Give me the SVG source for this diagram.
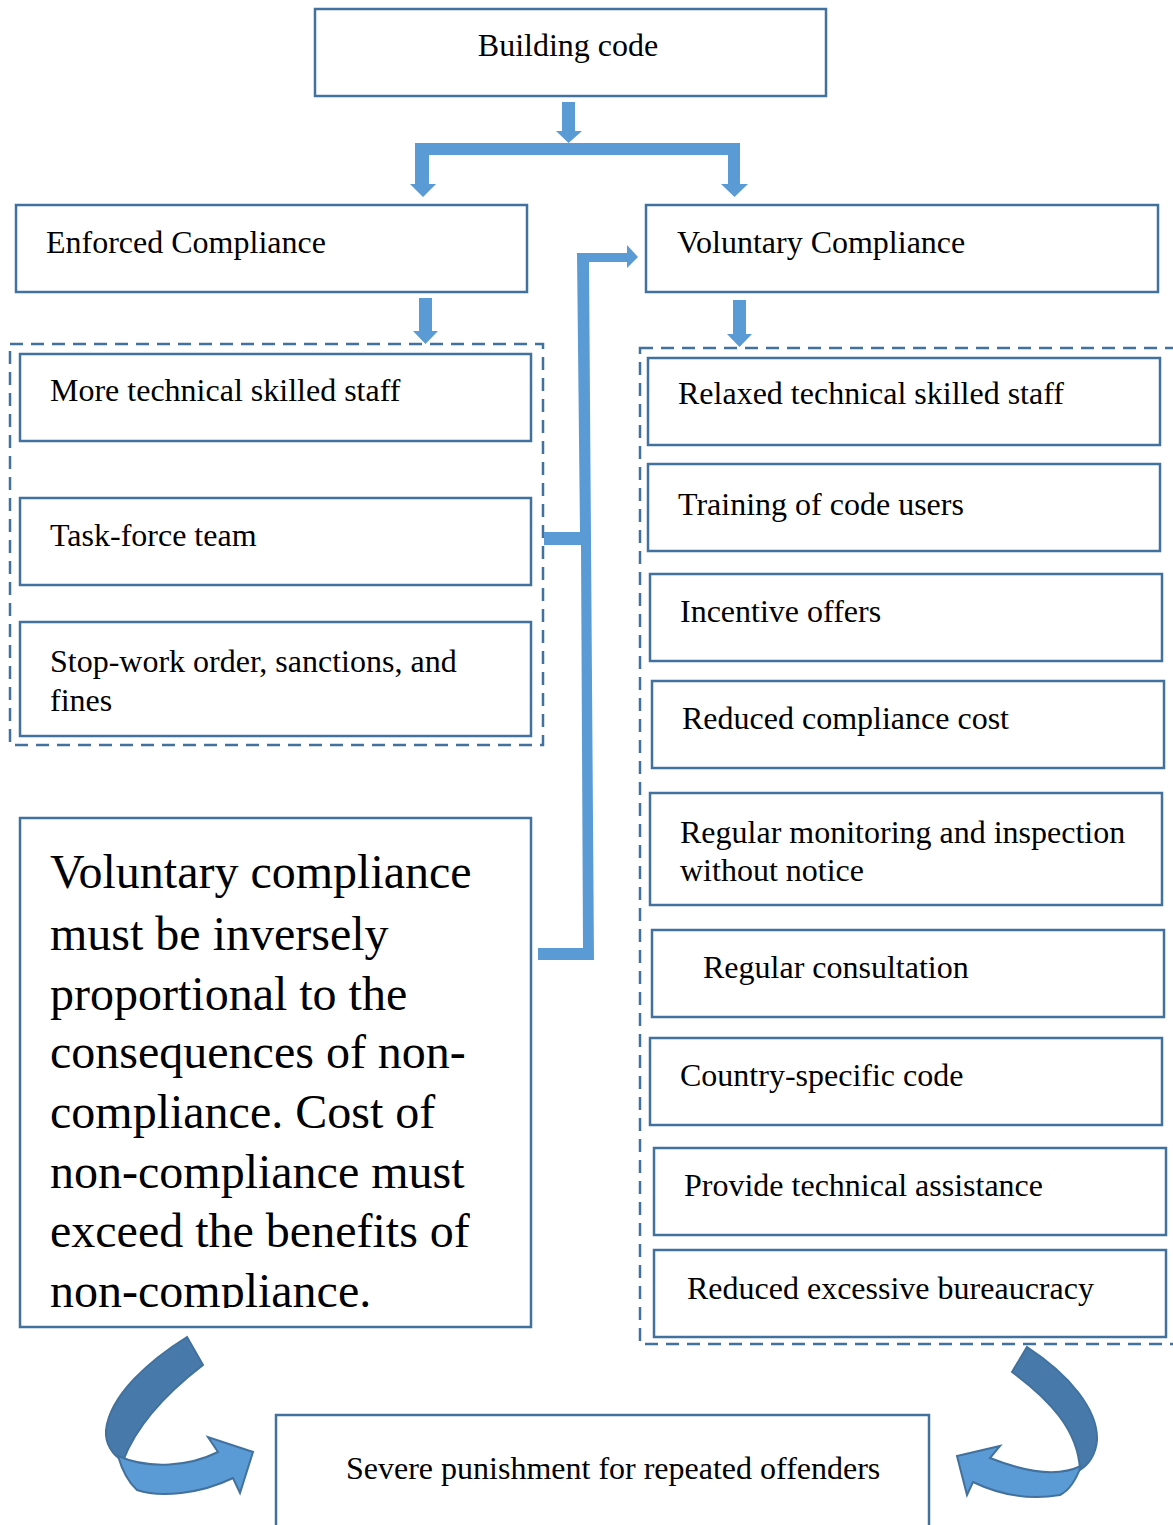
<svg xmlns="http://www.w3.org/2000/svg" width="1173" height="1525" viewBox="0 0 1173 1525">
<style>
.box{fill:#fff;stroke:#41719c;stroke-width:2.5}
.grp{fill:none;stroke:#41719c;stroke-width:2.5;stroke-dasharray:13 8}
.t{font-family:"Liberation Serif","Times New Roman",serif;font-size:32px;fill:#000}
.big{font-family:"Liberation Serif","Times New Roman",serif;font-size:48px;fill:#000}
.arr{fill:#5b9bd5}
.dark{fill:#477aab;stroke:#41719c;stroke-width:2}
.light{fill:#5b9bd5;stroke:#41719c;stroke-width:2}
</style>
<defs>
<clipPath id="bigclip"><rect x="22" y="820" width="508" height="488"/></clipPath>
</defs>
<rect width="1173" height="1525" fill="#fff"/>

<g id="groups">
<rect class="grp" x="10" y="344" width="533" height="401"/>
<rect class="grp" x="640" y="348" width="540" height="996"/>
</g>

<g id="connectors">
<polygon class="arr" points="562,102 575,102 575,131 582,131 568.5,143 556,131 562,131"/>
<rect class="arr" x="415" y="143" width="325" height="12"/>
<polygon class="arr" points="415,155 429,155 429,184 436,184 423,197 410,184 415,184"/>
<polygon class="arr" points="728,155 740,155 740,184 748,184 734.5,197 721,184 728,184"/>
<polygon class="arr" points="419,298 432,298 432,331 438,331 425.5,344 413,331 419,331"/>
<polygon class="arr" points="733,300 746,300 746,334 752,334 739.5,347 727,334 733,334"/>
<polygon class="arr" points="577,253 627,253 627,245 638,257 627,268 627,262 589,262 594,960 538,960 538,948 583,948 581,545 544,545 544,532 580,532"/>
<path class="dark" d="M187,1337 L203,1365 C168,1392 136,1426 123,1461 C112,1455 105,1443 106,1430 C110,1395 150,1360 187,1337 Z"/>
<path class="light" d="M118,1456 C150,1470 190,1466 218,1452 L208,1437 L253,1452 L240,1493 L233,1478 C200,1494 160,1498 137,1490 C128,1482 122,1470 118,1456 Z"/>
<path class="dark" d="M1027,1347 C1070,1375 1098,1410 1097,1440 C1096,1455 1088,1465 1080,1470 C1078,1430 1050,1400 1012,1372 Z"/>
<path class="light" d="M1081,1466 C1060,1476 1030,1474 990,1458 L1000,1446 L957,1456 L967,1495 L973,1482 C1000,1495 1030,1500 1060,1495 C1070,1490 1076,1480 1081,1466 Z"/>
</g>

<g id="n-building"><rect class="box" x="315" y="9" width="511" height="87"/><text class="t" x="568" y="56" text-anchor="middle">Building code</text></g>
<g id="n-enforced"><rect class="box" x="16" y="205" width="511" height="87"/><text class="t" x="46" y="253">Enforced Compliance</text></g>
<g id="n-voluntary"><rect class="box" x="646" y="205" width="512" height="87"/><text class="t" x="677" y="253">Voluntary Compliance</text></g>

<g id="n-more"><rect class="box" x="20" y="354" width="511" height="87"/><text class="t" x="50" y="401">More technical skilled staff</text></g>
<g id="n-task"><rect class="box" x="20" y="498" width="511" height="87"/><text class="t" x="50" y="546">Task-force team</text></g>
<g id="n-stop"><rect class="box" x="20" y="622" width="511" height="114"/><text class="t" x="50" y="672">Stop-work order, sanctions, and</text><text class="t" x="50" y="711">fines</text></g>

<g id="n-note"><rect class="box" x="20" y="818" width="511" height="509"/>
<g clip-path="url(#bigclip)">
<text class="big" x="50" y="888">Voluntary compliance</text>
<text class="big" x="50" y="950">must be inversely</text>
<text class="big" x="50" y="1010">proportional to the</text>
<text class="big" x="50" y="1068">consequences of non-</text>
<text class="big" x="50" y="1128">compliance. Cost of</text>
<text class="big" x="50" y="1188">non-compliance must</text>
<text class="big" x="50" y="1247">exceed the benefits of</text>
<text class="big" x="50" y="1307">non-compliance.</text>
</g></g>

<g id="n-relaxed"><rect class="box" x="648" y="358" width="512" height="87"/><text class="t" x="678" y="404">Relaxed technical skilled staff</text></g>
<g id="n-training"><rect class="box" x="648" y="464" width="512" height="87"/><text class="t" x="678" y="515">Training of code users</text></g>
<g id="n-incentive"><rect class="box" x="650" y="574" width="512" height="87"/><text class="t" x="680" y="622">Incentive offers</text></g>
<g id="n-reduced-cost"><rect class="box" x="652" y="681" width="512" height="87"/><text class="t" x="682" y="729">Reduced compliance cost</text></g>
<g id="n-monitoring"><rect class="box" x="650" y="793" width="512" height="112"/><text class="t" x="680" y="843">Regular monitoring and inspection</text><text class="t" x="680" y="881">without notice</text></g>
<g id="n-consultation"><rect class="box" x="652" y="930" width="512" height="87"/><text class="t" x="703" y="978">Regular consultation</text></g>
<g id="n-country"><rect class="box" x="650" y="1038" width="512" height="87"/><text class="t" x="680" y="1086">Country-specific code</text></g>
<g id="n-assistance"><rect class="box" x="654" y="1148" width="512" height="87"/><text class="t" x="684" y="1196">Provide technical assistance</text></g>
<g id="n-bureaucracy"><rect class="box" x="654" y="1250" width="512" height="87"/><text class="t" x="687" y="1299">Reduced excessive bureaucracy</text></g>

<g id="n-severe"><rect class="box" x="276" y="1415" width="653" height="120"/><text class="t" x="346" y="1479">Severe punishment for repeated offenders</text></g>
</svg>
